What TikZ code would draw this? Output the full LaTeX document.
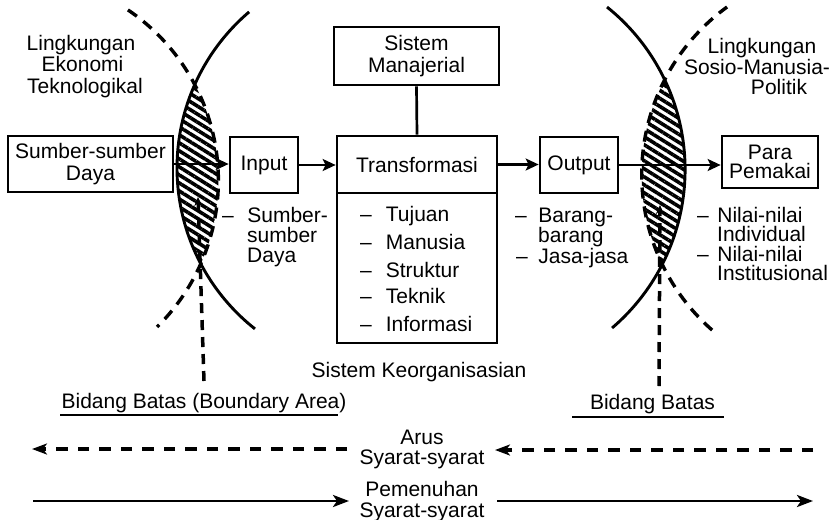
\documentclass[tikz,border=0pt]{standalone}
\usepackage{fontspec}
\setmainfont{Liberation Sans}
\usetikzlibrary{arrows.meta,patterns.meta}
\begin{document}
\begin{tikzpicture}[x=1pt,y=-1pt,
  lbl/.style={inner sep=0pt, font=\fontsize{21}{21.5}\selectfont},
  box/.style={draw, line width=2.7pt, inner sep=0pt, align=center, font=\fontsize{21}{21.5}\selectfont},
  arr/.style={line width=2.7pt, -{Stealth[length=13pt,width=12pt,inset=3pt]}},
  solidarc/.style={line width=2.9pt},
  dasharc/.style={line width=3.4pt, dash pattern=on 11pt off 8pt},
  vdash/.style={line width=3.5pt, dash pattern=on 10pt off 7pt},
  hdash/.style={line width=3.1pt, dash pattern=on 11.5pt off 10pt},
  hatch/.style={pattern={Lines[angle=-32,distance=6.8pt,line width=3.6pt]}},
  uline/.style={line width=2.4pt},
]
\useasboundingbox (0,0) rectangle (831,520);

% hatched boundary lenses
\begin{scope}
  \clip (382,168) circle [radius=205pt];
  \fill[hatch] (12.5,180.4) circle [radius=205.9pt];
\end{scope}
\begin{scope}
  \clip (476.8,169.6) circle [radius=208.3pt];
  \fill[hatch] (848.8,174.5) circle [radius=207.1pt];
\end{scope}

% arcs
\draw[solidarc] plot[domain=128.3:229.6, samples=80] ({382+205*cos(\x)}, {168+205*sin(\x)});
\draw[dasharc] plot[domain=-55.9:45.4, samples=80] ({12.5+205.9*cos(\x)}, {180.4+205.9*sin(\x)});
\draw[solidarc] plot[domain=-51.3:49.5, samples=80] ({476.8+208.3*cos(\x)}, {169.6+208.3*sin(\x)});
\draw[dasharc] plot[domain=131.3:234, samples=80] ({848.8+207.1*cos(\x)}, {174.5+207.1*sin(\x)});

% boxes
\node[box, minimum width=165pt, minimum height=56pt] (src) at (90.5,164) {Sumber-sumber\\Daya};
\node[box, minimum width=68pt, minimum height=56pt] (inp) at (264,165) {Input};
\node[box, minimum width=160pt, minimum height=57pt] (tr) at (417,164.5) {Transformasi};
\node[draw, line width=2.7pt, inner sep=0pt, minimum width=160pt, minimum height=150pt] (trl) at (417,268) {};
\node[box, minimum width=165pt, minimum height=58pt] (mgr) at (416.5,56) {Sistem\\Manajerial};
\node[box, minimum width=78pt, minimum height=56pt] (out) at (579,165) {Output};
\node[box, minimum width=96pt, minimum height=52pt, font=\fontsize{21}{19}\selectfont] (usr) at (770,162) {Para\\Pemakai};

% connectors
\draw[arr] (src.east) -- (src.east -| inp.west);
\draw[arr] (inp.east) -- (inp.east -| tr.west);
\draw[arr] (tr.east) -- (tr.east -| out.west);
\draw[arr] (out.east) -- (out.east -| usr.west);
\draw[line width=2.7pt] (mgr.south) -- (tr.north);

% environment labels
\node[lbl, anchor=base] (le1) at (81,50) {Lingkungan};
\node[lbl, anchor=base] (le2) at (82.5,71) {Ekonomi};
\node[lbl, anchor=base] (le3) at (85,93) {Teknologikal};
\node[lbl, anchor=base] (re1) at (762,53) {Lingkungan};
\node[lbl, anchor=base] (re2) at (757,74) {Sosio-Manusia-};
\node[lbl, anchor=base] (re3) at (779,94) {Politik};

% transformation list
\foreach \t/\y [count=\i] in {Tujuan/221, Manusia/249, Struktur/277, Teknik/303, Informasi/331}
  \node[lbl, anchor=base west] (tl\i) at (360,\y) {–\hspace{14pt}\t};

% input list
\node[lbl, anchor=base west] (in1) at (222,222) {–\hspace{13.5pt}Sumber-};
\node[lbl, anchor=base west] (in2) at (247,242) {sumber};
\node[lbl, anchor=base west] (in3) at (247,262) {Daya};

% output list
\node[lbl, anchor=base west] (ou1) at (515,222) {–\hspace{11.5pt}Barang-};
\node[lbl, anchor=base west] (ou2) at (538,242) {barang};
\node[lbl, anchor=base west] (ou3) at (516,263) {–\hspace{10.5pt}Jasa-jasa};

% user list
\node[lbl, anchor=base west] (us1) at (697,222) {–\hspace{8.5pt}Nilai-nilai};
\node[lbl, anchor=base west] (us2) at (717,241) {Individual};
\node[lbl, anchor=base west] (us3) at (697,261.5) {–\hspace{8.5pt}Nilai-nilai};
\node[lbl, anchor=base west] (us4) at (717,280) {Institusional};

\node[lbl, anchor=base] (ko) at (419,377) {Sistem Keorganisasian};

% boundary labels
\node[lbl, anchor=base] (bb1) at (204,408) {Bidang Batas (Boundary Area)};
\draw[uline] (60,415) -- (338,415);
\node[lbl, anchor=base] (bb2) at (652.5,409) {Bidang Batas};
\draw[uline] (572,417) -- (724,417);

\coordinate (vl1) at (204,381);
\coordinate (vl2) at (198,197);
\coordinate (vr1) at (659,386);
\coordinate (vr2) at (660,205);
\draw[vdash, -{Stealth[length=9pt,width=8pt]}] (vl1) -- (vl2);
\draw[vdash, -{Stealth[length=9pt,width=8pt]}] (vr1) -- (vr2);

% flows
\node[lbl, anchor=base] (ar1) at (422,444) {Arus};
\node[lbl, anchor=base] (ar2) at (422,464) {Syarat-syarat};
\node[lbl, anchor=base] (pm1) at (422,496.5) {Pemenuhan};
\node[lbl, anchor=base] (pm2) at (422,517) {Syarat-syarat};

\coordinate (da1) at (347,449);
\coordinate (da2) at (32,449);
\coordinate (db1) at (813,450);
\coordinate (db2) at (495,450);
\draw[hdash, -{Stealth[length=15pt,width=11pt,inset=4pt]}] (da1) -- (da2);
\draw[hdash, -{Stealth[length=15pt,width=11pt,inset=4pt]}] (db1) -- (db2);

\coordinate (sa1) at (33,501);
\coordinate (sa2) at (349,501);
\coordinate (sb1) at (497,501);
\coordinate (sb2) at (813,501);
\draw[line width=2.8pt, -{Stealth[length=16pt,width=12pt,inset=4pt]}] (sa1) -- (sa2);
\draw[line width=2.8pt, -{Stealth[length=16pt,width=12pt,inset=4pt]}] (sb1) -- (sb2);
\end{tikzpicture}
\end{document}
